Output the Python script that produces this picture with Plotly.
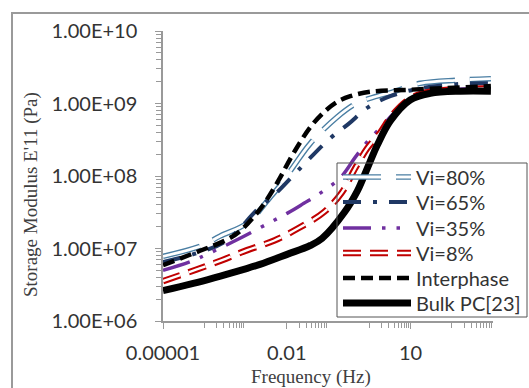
import plotly.graph_objects as go

# ---------------- data ----------------
series_names = ["Vi=80%", "Vi=65%", "Vi=35%", "Vi=8%", "Interphase", "Bulk PC[23]"]

vi80_freq = [1e-5, 8.9e-5, 2.4e-4, 1.1e-3, 3.98e-3, 6.9e-3, 1.45e-2, 3.7e-2, 0.166, 0.513, 1.55, 3.8, 17.4, 138, 890]
vi80_mod = [7.8e6, 1.1e7, 1.48e7, 2.24e7, 5.1e7, 7.4e7, 1.35e8, 2.8e8, 6.5e8, 1.02e9, 1.26e9, 1.45e9, 1.9e9, 2.1e9, 2.2e9]

vi65_freq = [1e-5, 7.9e-5, 3.5e-4, 2.0e-3, 5.2e-3, 1.45e-2, 3.7e-2, 0.112, 0.31, 0.95, 3.24, 17.4, 162, 890]
vi65_mod = [6.5e6, 8.9e6, 1.29e7, 3.5e7, 5.6e7, 1.02e8, 1.78e8, 3.3e8, 5.2e8, 8.9e8, 1.26e9, 1.62e9, 1.86e9, 1.9e9]

vi35_freq = [1e-5, 4.6e-5, 1.38e-4, 8.7e-4, 3.98e-3, 1.07e-2, 2.6e-2, 6.5e-2, 0.2, 0.46, 0.89, 1.86, 5.6, 14.8, 93, 890]
vi35_mod = [5.0e6, 6.6e6, 8.7e6, 1.45e7, 2.3e7, 3.1e7, 4.2e7, 5.8e7, 9.5e7, 1.82e8, 2.95e8, 4.6e8, 8.9e8, 1.32e9, 1.55e9, 1.62e9]

vi8_freq = [1e-5, 6.3e-5, 2.7e-4, 1.1e-3, 5.0e-3, 1.9e-2, 8.1e-2, 0.22, 0.46, 0.89, 1.86, 3.6, 9.8, 30.2, 890]
vi8_mod = [3.55e6, 5.1e6, 6.9e6, 9.5e6, 1.29e7, 1.9e7, 3.2e7, 6.0e7, 1.29e8, 2.4e8, 4.0e8, 6.9e8, 1.17e9, 1.45e9, 1.62e9]

inter_freq = [1e-5, 7.9e-5, 3.5e-4, 7.4e-4, 2.24e-3, 3.98e-3, 6.9e-3, 1.2e-2, 2.14e-2, 3.7e-2, 7.6e-2, 0.166, 0.347, 1.05, 9.8, 890]
inter_mod = [5.9e6, 9.3e6, 1.32e7, 1.74e7, 3.47e7, 5.6e7, 9.5e7, 1.7e8, 2.95e8, 4.7e8, 7.4e8, 1.05e9, 1.26e9, 1.45e9, 1.55e9, 1.74e9]

bulk_freq = [1e-5, 5.4e-5, 8.7e-4, 2.24e-3, 1.02e-2, 3.7e-2, 7.2e-2, 0.25, 0.513, 0.708, 1.05, 1.55, 3.24, 9.8, 30.2, 162, 890]
bulk_mod = [2.63e6, 3.3e6, 5.13e6, 6.03e6, 8.3e6, 1.1e7, 1.38e7, 3.16e7, 6.2e7, 9.3e7, 1.58e8, 2.63e8, 5.75e8, 1.12e9, 1.38e9, 1.48e9, 1.48e9]

y_tickvals = [1e6, 1e7, 1e8, 1e9, 1e10]
y_ticktext = ["1.00E+06", "1.00E+07", "1.00E+08", "1.00E+09", "1.00E+10"]
x_tickvals = [1e-5, 1e-2, 1e1]
x_ticktext = ["0.00001", "0.01", "10"]
x_minor_vals = [k * 10.0 ** n for n in (-4, -2, 0, 2) for k in range(1, 10)]
y_minor_vals = [k * 10.0 ** n for n in (6, 7, 8, 9) for k in range(2, 10)]

# ---------------- styles ----------------
SANS = "Lato, 'Open Sans', sans-serif"
TICKFONT = dict(family=SANS, size=20, color="#333333")
TITLEFONT = dict(family="'Liberation Serif', 'DejaVu Serif', serif", size=19, color="#404040")

styles = [
    dict(color="#4a7ea3", width=5.5, dash="38px,15px", inner=2.8),
    dict(color="#1f3864", width=4, dash="18px,12px,4px,12px", inner=None),
    dict(color="#7030a0", width=3.5, dash="28px,11px,3.5px,11px,3.5px,11px", inner=None),
    dict(color="#c00000", width=6.5, dash="18px,9px", inner=2.4),
    dict(color="#000000", width=4.5, dash="12px,6px", inner=None),
    dict(color="#000000", width=7, dash="solid", inner=None),
]
data = [(vi80_freq, vi80_mod), (vi65_freq, vi65_mod), (vi35_freq, vi35_mod),
        (vi8_freq, vi8_mod), (inter_freq, inter_mod), (bulk_freq, bulk_mod)]

# plot area in pixels (figure coordinates)
W, H = 529, 388
L, R, T, B = 163, 36, 31, 67
PW, PH = W - L - R, H - T - B
def px(xp):
    return (xp - L) / PW
def py(yp):
    return (H - B - yp) / PH

fig = go.Figure()
shapes = []
annotations = []

# custom legend (transparent box, as in the reference)
leg_rows = [177, 202, 228, 253, 278, 303]
shapes.append(dict(type="rect", xref="paper", yref="paper",
                   x0=px(337), x1=px(527), y0=py(317), y1=py(163),
                   line=dict(color="#555555", width=1), fillcolor="rgba(0,0,0,0)", layer="above"))

for (fx, fy), name, st, row in zip(data, series_names, styles, leg_rows):
    fig.add_trace(go.Scatter(x=fx, y=fy, name=name, mode="lines", showlegend=False,
                             line=dict(color=st["color"], width=st["width"], dash=st["dash"],
                                       shape="spline")))
    shapes.append(dict(type="line", xref="paper", yref="paper",
                       x0=px(343), x1=px(411), y0=py(row), y1=py(row),
                       line=dict(color=st["color"], width=st["width"], dash=st["dash"])))
    if st["inner"]:
        fig.add_trace(go.Scatter(x=fx, y=fy, name=name, mode="lines", showlegend=False,
                                 hoverinfo="skip",
                                 line=dict(color="white", width=st["inner"], dash=st["dash"],
                                           shape="spline")))
        shapes.append(dict(type="line", xref="paper", yref="paper",
                           x0=px(343), x1=px(411), y0=py(row), y1=py(row),
                           line=dict(color="white", width=st["inner"], dash=st["dash"])))
    annotations.append(dict(text=name, xref="paper", yref="paper", x=px(414), y=py(row),
                            xanchor="left", yanchor="middle", showarrow=False,
                            font=dict(family=SANS, size=20, color="#333333")))

# outer chart border
shapes.append(dict(type="rect", xref="paper", yref="paper",
                   x0=px(12), x1=px(560), y0=py(420), y1=py(13),
                   line=dict(color="#9a9a9a", width=2), fillcolor="rgba(0,0,0,0)", layer="below"))

annotations += [
    dict(text="Storage Modulus E'11 (Pa)", xref="paper", yref="paper",
         x=px(31), y=py(195), textangle=-90, showarrow=False,
         xanchor="center", yanchor="middle", font=TITLEFONT),
    dict(text="Frequency (Hz)", xref="paper", yref="paper",
         x=px(311), y=py(377), showarrow=False,
         xanchor="center", yanchor="middle", font=TITLEFONT),
]

axis_common = dict(showgrid=False, zeroline=False, showline=True, linecolor="#999999",
                   linewidth=1.5, tickmode="array", ticks="outside", ticklen=6,
                   tickcolor="#999999", tickwidth=1, tickfont=TICKFONT, automargin=False)
fig.update_xaxes(type="log", range=[-5, 3], tickvals=x_tickvals, ticktext=x_ticktext,
                 ticklabelstandoff=7,
                 minor=dict(tickmode="array", tickvals=x_minor_vals, ticks="outside",
                            ticklen=5, tickcolor="#999999", showgrid=False),
                 **axis_common)
fig.update_yaxes(type="log", range=[6, 10], tickvals=y_tickvals, ticktext=y_ticktext,
                 ticklabelstandoff=14,
                 minor=dict(tickmode="array", tickvals=y_minor_vals, ticks="outside",
                            ticklen=5, tickcolor="#999999", showgrid=False),
                 **axis_common)

fig.update_layout(
    template="none",
    width=W, height=H,
    margin=dict(l=L, r=R, t=T, b=B, pad=0),
    paper_bgcolor="white", plot_bgcolor="white",
    showlegend=False,
    hovermode=False,
    shapes=shapes,
    annotations=annotations,
)

fig.write_html("out.html", config={"displayModeBar": False},
               post_script="document.body.style.margin='0';")
